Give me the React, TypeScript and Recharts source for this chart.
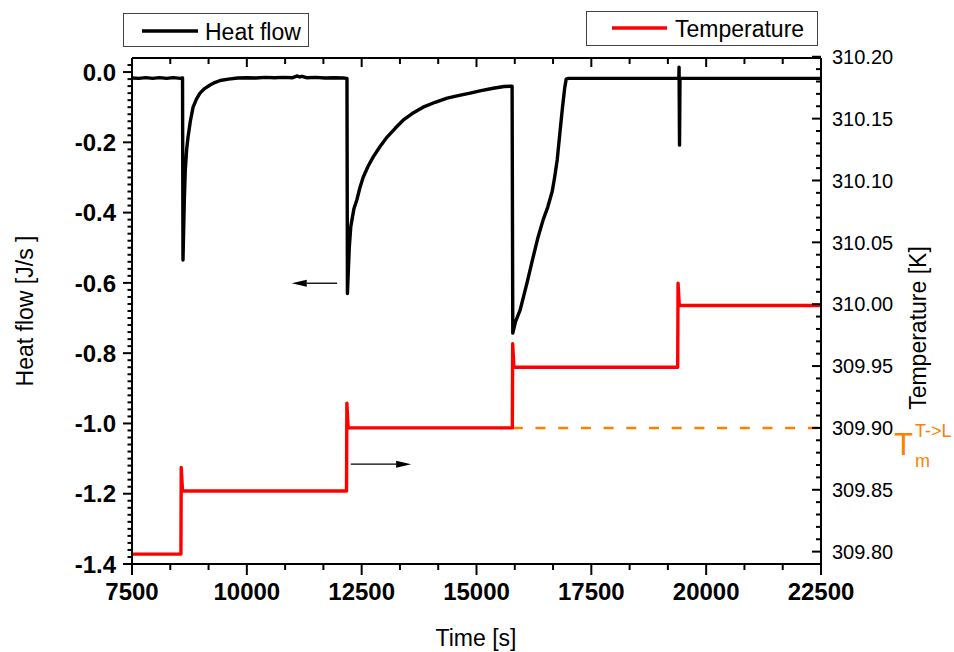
import { LineChart, Line, XAxis, YAxis, ReferenceLine } from "recharts";

const FONT = "'Liberation Sans', Arial, Helvetica, sans-serif";
const ORANGE = "#FF8000";

// axis tick labels
const timeLabels = [7500, 10000, 12500, 15000, 17500, 20000, 22500];
const heatLabels = [-1.4, -1.2, -1.0, -0.8, -0.6, -0.4, -0.2, 0.0];
const tempLabels = [309.8, 309.85, 309.9, 309.95, 310.0, 310.05, 310.1, 310.15, 310.2];

// heat flow trace [J/s]
const heatTimes = [
  7500, 7650, 7800, 7950, 8100, 8250, 8400, 8550, 8600,
  8610, 8640, 8660, 8690, 8720, 8770, 8830, 8900, 8980, 9080, 9200, 9300, 9420, 9600, 9800,
  10000, 10200, 10400, 10600, 10800, 11000, 11100, 11150, 11200, 11300, 11500, 11700, 11900, 12100, 12180,
  12190, 12230, 12263, 12330, 12394, 12460, 12531, 12640, 12749, 12900, 13054, 13230, 13402, 13600,
  13838, 14100, 14361, 14600, 14862, 15100, 15363, 15600, 15775,
  15790, 15850, 15951, 16100, 16234, 16340, 16452, 16550, 16648, 16700, 16757, 16810, 16866, 16920, 16953,
  17000, 17500, 18000, 18500, 19000, 19405, 19410, 19420, 19430, 20000, 21000, 22500,
];
const heatFlow = [
  -0.017, -0.018, -0.016, -0.018, -0.016, -0.018, -0.016, -0.018, -0.017,
  -0.535, -0.36, -0.28, -0.22, -0.185, -0.14, -0.1, -0.078, -0.06, -0.047, -0.037, -0.03, -0.024, -0.02, -0.017,
  -0.016, -0.017, -0.015, -0.016, -0.015, -0.016, -0.011, -0.014, -0.012, -0.016, -0.015, -0.017, -0.016, -0.017, -0.018,
  -0.63, -0.5, -0.44, -0.39, -0.364, -0.33, -0.3, -0.268, -0.242, -0.212, -0.185, -0.16, -0.137, -0.118,
  -0.1, -0.086, -0.074, -0.067, -0.06, -0.053, -0.046, -0.041, -0.04,
  -0.743, -0.71, -0.677, -0.6, -0.526, -0.47, -0.42, -0.385, -0.34, -0.3, -0.25, -0.18, -0.108, -0.045, -0.02,
  -0.018, -0.018, -0.018, -0.018, -0.018, -0.018, 0.014, -0.208, -0.018, -0.018, -0.018, -0.018,
];

// temperature trace [K]
const tempTimes = [7500, 8565, 8572, 8600, 12170, 12178, 12205, 15780, 15788, 15815, 19380, 19388, 19415, 22500];
const temperature = [
  309.798, 309.798, 309.868, 309.849, 309.849, 309.92, 309.9, 309.9,
  309.968, 309.949, 309.949, 310.017, 309.999, 309.999,
];

// melting temperature marker and the two arrows
const meltTemp = 309.9;
const meltStart = 15790;
const leftArrow = { from: 11965, to: 10978, y: -0.601 };
const rightArrow = { from: 12263, to: 13577, y: 309.8707 };

const heatDomain: [number, number] = [-1.4, 0.04];

const heatData = heatTimes.map((t, i) => ({ t, v: heatFlow[i] }));
const tempData = tempTimes.map((t, i) => ({ t, v: temperature[i] }));

function subdivide(labels: number[], n: number): number[] {
  const out: number[] = [];
  for (let i = 0; i < labels.length - 1; i++) {
    for (let k = 0; k < n; k++) out.push(labels[i] + ((labels[i + 1] - labels[i]) * k) / n);
  }
  out.push(labels[labels.length - 1]);
  return out;
}

const timeTicks = subdivide(timeLabels, 3);
const heatTicks = [...subdivide(heatLabels, 10), 0.02];
const tempTicks = subdivide(tempLabels, 5);

const isMajor = (v: number, labels: number[]) => labels.some((l) => Math.abs(l - v) < 1e-7);

function BottomTick({ x = 0, y = 0, payload }: any) {
  const v = payload?.value ?? 0;
  const major = isMajor(v, timeLabels);
  return (
    <g>
      <line x1={x} y1={y} x2={x} y2={y + (major ? 11 : 6)} stroke="#000" strokeWidth={2} />
      {major && (
        <text x={x} y={y + 19} dy="0.71em" textAnchor="middle" fontSize={24} fontWeight="bold" fontFamily={FONT} fill="#000">
          {Math.round(v)}
        </text>
      )}
    </g>
  );
}

// top frame ticks point into the plot
function TopTick({ x = 0, y = 0, payload }: any) {
  const major = isMajor(payload?.value ?? 0, timeLabels);
  return <line x1={x} y1={y} x2={x} y2={y + (major ? 9 : 6)} stroke="#000" strokeWidth={2} />;
}

function LeftTick({ x = 0, y = 0, payload }: any) {
  const v = payload?.value ?? 0;
  const major = isMajor(v, heatLabels);
  return (
    <g>
      <line x1={x} y1={y} x2={x - (major ? 9 : 4.5)} y2={y} stroke="#000" strokeWidth={2} />
      {major && (
        <text x={x - 16} y={y} dy="0.36em" textAnchor="end" fontSize={24} fontWeight="bold" fontFamily={FONT} fill="#000">
          {v.toFixed(1)}
        </text>
      )}
    </g>
  );
}

// right axis ticks point into the plot, labels outside
function RightTick({ x = 0, y = 0, payload }: any) {
  const v = payload?.value ?? 0;
  const major = isMajor(v, tempLabels);
  return (
    <g>
      <line x1={x} y1={y} x2={x - (major ? 9 : 5)} y2={y} stroke="#000" strokeWidth={2} />
      {major && (
        <text x={x + 11} y={y} dy="0.36em" textAnchor="start" fontSize={20} fontFamily={FONT} fill="#000">
          {v.toFixed(2)}
        </text>
      )}
    </g>
  );
}

function Arrow(props: any) {
  const { x1, y1, x2, y2 } = props;
  const a = Math.atan2(y2 - y1, x2 - x1);
  const bx = x2 - 15 * Math.cos(a);
  const by = y2 - 15 * Math.sin(a);
  const px = -Math.sin(a) * 3.5;
  const py = Math.cos(a) * 3.5;
  return (
    <g>
      <line x1={x1} y1={y1} x2={bx} y2={by} stroke="#000" strokeWidth={1.3} />
      <polygon points={`${x2},${y2} ${bx + px},${by + py} ${bx - px},${by - py}`} fill="#000" />
    </g>
  );
}

export default function App() {
  return (
    <div style={{ position: "absolute", left: 0, top: 0, width: 954, height: 652, background: "#fff" }}>
      <LineChart width={954} height={652} margin={{ top: 48, right: 0, bottom: 0, left: 0 }}>
        <XAxis xAxisId="x" dataKey="t" type="number" domain={[7500, 22500]} allowDataOverflow ticks={timeTicks} interval={0}
          height={88} tickSize={0} tickMargin={0} tick={<BottomTick />} axisLine={{ stroke: "#000", strokeWidth: 2 }} />
        <XAxis xAxisId="top" dataKey="t" orientation="top" type="number" domain={[7500, 22500]} allowDataOverflow ticks={timeTicks} interval={0}
          height={10} tickSize={0} tickMargin={0} tick={<TopTick />} axisLine={{ stroke: "#000", strokeWidth: 2 }} />
        <YAxis yAxisId="left" type="number" domain={heatDomain} allowDataOverflow ticks={heatTicks} interval={0}
          width={132} tickSize={0} tickMargin={0} tick={<LeftTick />} axisLine={{ stroke: "#000", strokeWidth: 2 }} />
        <YAxis yAxisId="right" orientation="right" type="number" domain={[309.79, 310.199]} allowDataOverflow ticks={tempTicks} interval={0}
          width={133} tickSize={0} tickMargin={0} tick={<RightTick />} axisLine={{ stroke: "#000", strokeWidth: 2 }} />
        {/* top frame line */}
        <ReferenceLine xAxisId="x" yAxisId="left" y={heatDomain[1]} stroke="#000" strokeWidth={2} ifOverflow="visible" />
        <ReferenceLine xAxisId="x" yAxisId="right" segment={[{ x: meltStart, y: meltTemp }, { x: 22500, y: meltTemp }]}
          stroke={ORANGE} strokeWidth={2.5} strokeDasharray="10 12.7" />
        {/* heat flow sits on the top time axis, temperature on the bottom one (same range) */}
        <Line xAxisId="top" yAxisId="left" data={heatData} dataKey="v" type="linear" stroke="#000" strokeWidth={3.4}
          strokeLinejoin="round" dot={false} isAnimationActive={false} />
        <Line xAxisId="x" yAxisId="right" data={tempData} dataKey="v" type="linear" stroke="#FF0000" strokeWidth={3.4}
          strokeLinejoin="round" dot={false} isAnimationActive={false} />
        <ReferenceLine xAxisId="top" yAxisId="left" segment={[{ x: leftArrow.from, y: leftArrow.y }, { x: leftArrow.to, y: leftArrow.y }]} shape={Arrow} />
        <ReferenceLine xAxisId="x" yAxisId="right" segment={[{ x: rightArrow.from, y: rightArrow.y }, { x: rightArrow.to, y: rightArrow.y }]} shape={Arrow} />
      </LineChart>
      <svg width={954} height={652} style={{ position: "absolute", left: 0, top: 0, pointerEvents: "none" }} fontFamily={FONT}>
        <rect x={123.5} y={13.5} width={185} height={33} fill="#fff" stroke="#444" strokeWidth={1} />
        <line x1={142} y1={31} x2={198} y2={31} stroke="#000" strokeWidth={3.5} />
        <text x={205} y={40} fontSize={23} fill="#000">Heat flow</text>
        <rect x={586.5} y={11.5} width={231} height={34} fill="#fff" stroke="#444" strokeWidth={1} />
        <line x1={612} y1={28} x2={667} y2={28} stroke="#FF0000" strokeWidth={3.5} />
        <text x={675} y={37} fontSize={23} fill="#000">Temperature</text>
        <text x={476} y={646} fontSize={23} textAnchor="middle" fill="#000">Time [s]</text>
        <text x={33} y={311} fontSize={23} textAnchor="middle" fill="#000" transform="rotate(-90 33 311)">Heat flow [J/s ]</text>
        <text x={926} y={328} fontSize={23} textAnchor="middle" fill="#000" transform="rotate(-90 926 328)">Temperature [K]</text>
        <text x={894} y={455} fontSize={31} fill={ORANGE}>T</text>
        <text x={915} y={437} fontSize={18} fill={ORANGE}>T-&gt;L</text>
        <text x={915} y={467} fontSize={18} fill={ORANGE}>m</text>
      </svg>
    </div>
  );
}
